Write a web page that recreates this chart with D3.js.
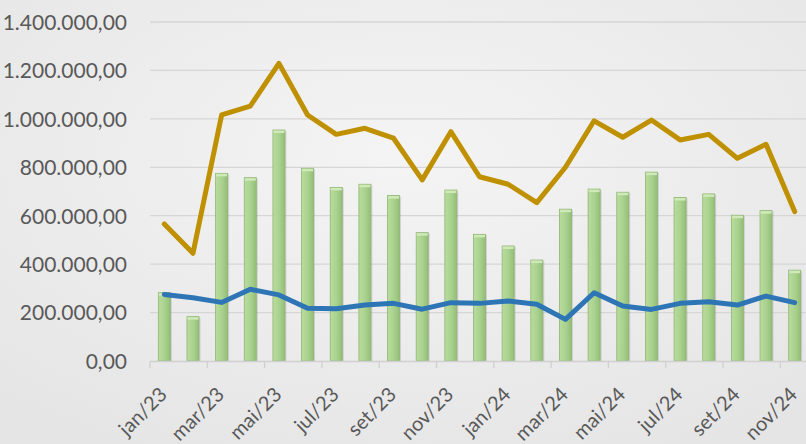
<!DOCTYPE html>
<html><head><meta charset="utf-8">
<script src="https://cdn.jsdelivr.net/npm/d3@7/dist/d3.min.js"></script>
<style>html,body{margin:0;padding:0;background:#eeeeee;}svg{display:block;}</style>
</head><body><svg id="c" width="806" height="444"></svg>
<script>
const categories = ["jan/23","fev/23","mar/23","abr/23","mai/23","jun/23","jul/23","ago/23","set/23","out/23","nov/23","dez/23",
  "jan/24","fev/24","mar/24","abr/24","mai/24","jun/24","jul/24","ago/24","set/24","out/24","nov/24"];
const barValues = [282000,183000,775000,757000,954000,796000,717000,730000,683000,530000,706000,523000,
  475000,417000,627000,710000,697000,780000,675000,690000,602000,621000,375000];
const goldValues = [566000,445000,1016000,1053000,1229000,1016000,936000,961000,920000,748000,947000,761000,
  730000,654000,800000,992000,924000,995000,913000,936000,837000,895000,617000];
const blueValues = [275000,261000,242000,296000,273000,218000,216000,231000,238000,214000,241000,238000,
  248000,234000,172000,282000,227000,213000,238000,245000,231000,268000,241000];
const yTicks = [0,200000,400000,600000,800000,1000000,1200000,1400000];

(function(){
const svg = d3.select("#c");
const W = 806, H = 444;
const defs = svg.append("defs");
const bg = defs.append("radialGradient").attr("id","bg").attr("cx","50%").attr("cy","35%").attr("r","75%");
bg.append("stop").attr("offset","0%").attr("stop-color","#f4f4f4");
bg.append("stop").attr("offset","100%").attr("stop-color","#e5e5e5");
svg.append("rect").attr("width",W).attr("height",H).attr("fill","url(#bg)");

const bg2 = defs.append("linearGradient").attr("id","barg").attr("x1","0").attr("x2","1").attr("y1","0").attr("y2","0");
bg2.append("stop").attr("offset","0%").attr("stop-color","#b9dc9c");
bg2.append("stop").attr("offset","55%").attr("stop-color","#a9d18e");
bg2.append("stop").attr("offset","100%").attr("stop-color","#93bd77");

const mLeft = 150, mRight = 809, mTop = 22, mBottom = 361;
const x = d3.scaleBand().domain(categories).range([mLeft,mRight]).paddingInner(0).paddingOuter(0);
const y = d3.scaleLinear().domain([0,1400000]).range([mBottom,mTop]);
const fmt = v => {
  const s = Math.round(v).toString().replace(/\B(?=(\d{3})+(?!\d))/g,".");
  return s + ",00";
};

svg.append("g").selectAll("line").data(yTicks.filter(d=>d>0)).join("line")
  .attr("x1",mLeft).attr("x2",mRight).attr("y1",d=>y(d)).attr("y2",d=>y(d))
  .attr("stroke","#d6d6d6").attr("stroke-width",1.3);

const yAxis = d3.axisLeft(y).tickValues(yTicks).tickFormat(fmt).tickSize(0).tickPadding(0);
const gy = svg.append("g").attr("transform",`translate(127,0)`).call(yAxis);
gy.select(".domain").remove();
gy.selectAll("text").attr("fill","#595959").style("font-family","Lato, 'Open Sans', sans-serif").style("font-size","21px").attr("dy","0.35em");

const bw = 12;
const bars = svg.append("g");
bars.selectAll("rect.sh").data(barValues).join("rect").attr("class","sh")
  .attr("x",(d,i)=>x(categories[i])+x.bandwidth()/2-bw/2+1.5).attr("y",d=>y(d)+1)
  .attr("width",bw).attr("height",d=>mBottom-y(d)-1).attr("fill","#000").attr("opacity",0.12);
bars.selectAll("rect.b").data(barValues).join("rect").attr("class","b")
  .attr("x",(d,i)=>x(categories[i])+x.bandwidth()/2-bw/2).attr("y",d=>y(d))
  .attr("width",bw).attr("height",d=>mBottom-y(d)).attr("fill","url(#barg)")
  .attr("stroke","#8fb573").attr("stroke-width",0.8);
bars.selectAll("rect.cap").data(barValues).join("rect").attr("class","cap")
  .attr("x",(d,i)=>x(categories[i])+x.bandwidth()/2-bw/2+0.5).attr("y",d=>y(d)+0.5)
  .attr("width",bw-1).attr("height",2.5).attr("fill","#cfeab8");

const xAxis = d3.axisBottom(x).tickSize(0).tickFormat("");
const gx = svg.append("g").attr("transform",`translate(0,${mBottom})`).call(xAxis);
gx.select(".domain").attr("stroke","#d0d0d0").attr("stroke-width",1.3);
gx.selectAll(".tick").remove();
svg.append("g").selectAll("line").data(categories.filter((d,i)=>i%2===0)).join("line")
  .attr("x1",d=>x(d)).attr("x2",d=>x(d)).attr("y1",mBottom).attr("y2",mBottom+7)
  .attr("stroke","#d0d0d0").attr("stroke-width",1.3);
svg.append("g").selectAll("text").data(categories.filter((d,i)=>i%2===0)).join("text")
  .attr("transform",d=>`translate(${x(d)+x.bandwidth()/2-6},${mBottom+25}) rotate(-45)`)
  .attr("text-anchor","end").attr("dy","0.7em")
  .attr("fill","#595959").style("font-family","Lato, 'Open Sans', sans-serif").style("font-size","20px")
  .text(d=>d);

const line = d3.line().x((d,i)=>x(categories[i])+x.bandwidth()/2).y(d=>y(d)).curve(d3.curveLinear);
svg.append("path").datum(blueValues).attr("d",line).attr("fill","none").attr("stroke","#2e75b6")
  .attr("stroke-width",5).attr("stroke-linejoin","round").attr("stroke-linecap","round");
svg.append("path").datum(goldValues).attr("d",line).attr("fill","none").attr("stroke","#bf9000")
  .attr("stroke-width",5).attr("stroke-linejoin","round").attr("stroke-linecap","round");
})();
</script></body></html>
